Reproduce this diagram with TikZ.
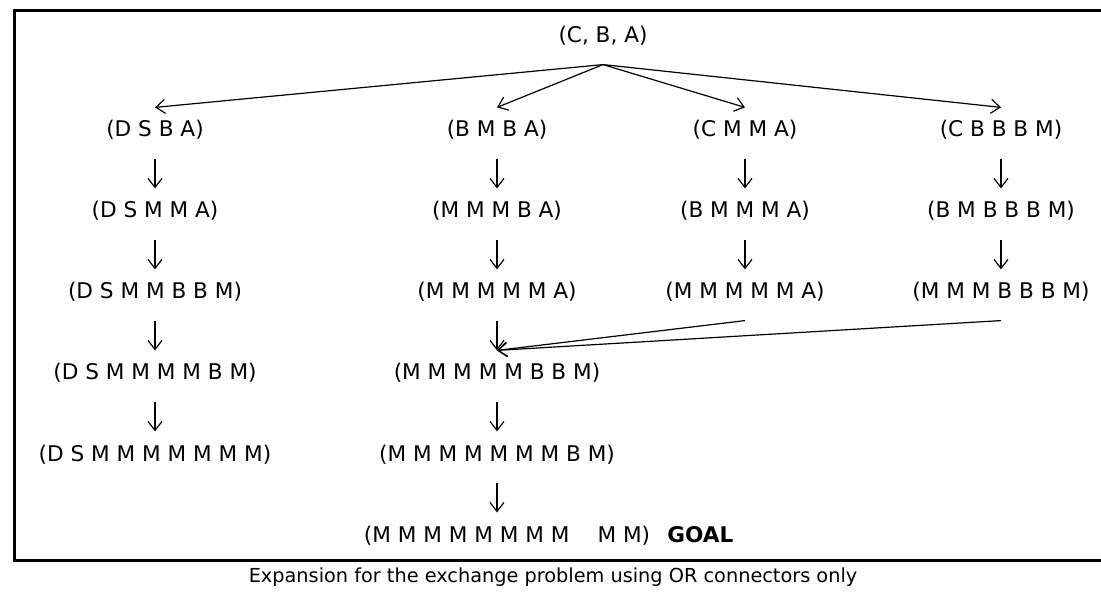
\documentclass[tikz,border=0pt]{standalone}
\usepackage{fontspec}
\setmainfont{DejaVu Sans}
\usetikzlibrary{positioning,arrows.meta}

\begin{document}
\begin{tikzpicture}[x=0.5pt,y=-0.5pt,->,>={Straight Barb[length=4.5pt,width=7pt]},line width=0.6pt]
    \tikzstyle{state}=[inner sep=0pt, anchor=base, text height=14.5pt, text depth=10.5pt, font=\fontsize{10.8}{12}\selectfont]
    \useasboundingbox (0,0) rectangle (1101,592);
    \draw[-, line width=1.5pt] (1101,11) -| (14,560) -- (1101,560);
    \node[state] (r) at (603,43) {(C, B, A)};
    \foreach \t [count=\i] in {{(D S B A)},{(D S M M A)},{(D S M M B B M)},{(D S M M M M B M)},{(D S M M M M M M M)}} {
        \node[state] (a\i) at (155,{137+81*(\i-1)}) {\t};
    }
    \foreach \t [count=\i] in {{(B M B A)},{(M M M B A)},{(M M M M M A)},{(M M M M M B B M)},{(M M M M M M M B M)}} {
        \node[state] (b\i) at (497,{137+81*(\i-1)}) {\t};
    }
    \node[state] (b6) at (507,542) {(M M M M M M M M\hspace{1.3em}M M)};
    \node[state, font=\fontsize{10.8}{12}\selectfont\bfseries, right=8pt of b6.base east, anchor=base west] (goal) {GOAL};
    \foreach \t [count=\i] in {{(C M M A)},{(B M M M A)},{(M M M M M A)}} {
        \node[state] (c\i) at (745,{137+81*(\i-1)}) {\t};
    }
    \foreach \t [count=\i] in {{(C B B B M)},{(B M B B B M)},{(M M M B B B M)}} {
        \node[state] (d\i) at (1001,{137+81*(\i-1)}) {\t};
    }
    \node[font=\fontsize{9.65}{11}\selectfont] (cap) at (553,577) {Expansion for the exchange problem using OR connectors only};
    % OR links from the root
    \foreach \n in {a1,b1,c1,d1} {
        \path (r.south) edge (\n.north);
    }
    \foreach \u/\v in {a1/a2,a2/a3,a3/a4,a4/a5,b1/b2,b2/b3,b3/b4,b4/b5,c1/c2,c2/c3,d1/d2,d2/d3} {
        \path (\u.south) edge (\v.north);
    }
    \path (b5.south) edge (b5.south |- b6.north);
    \path (c3.south) edge (b4.north);
    \path (d3.south) edge (b4.north);
\end{tikzpicture}
\end{document}
